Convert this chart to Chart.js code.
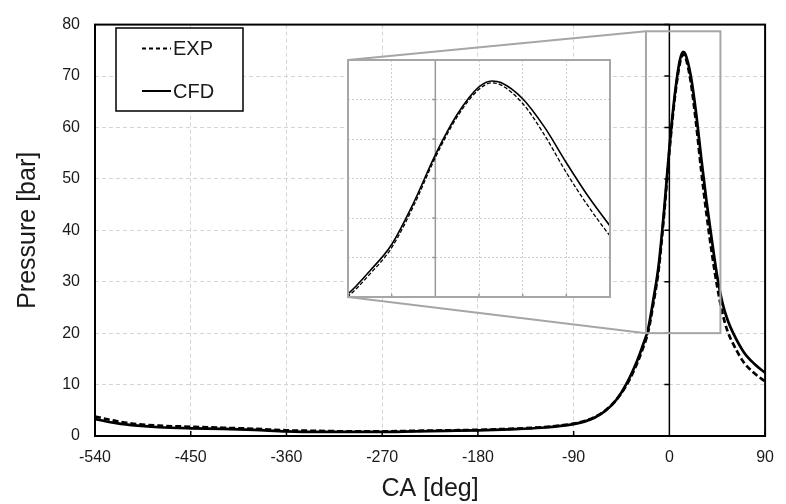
<!DOCTYPE html>
<html>
<head>
<meta charset="utf-8">
<script src="https://cdn.jsdelivr.net/npm/chart.js@4.4.1/dist/chart.umd.min.js"></script>
<style>
  html, body { margin: 0; padding: 0; background: #fff; }
  #wrap { position: relative; width: 786px; height: 504px; }
  #main { position: absolute; left: 0; top: 0; }
  #inset { position: absolute; }
</style>
</head>
<body>
<div id="wrap">
  <canvas id="main" width="786" height="504"></canvas>
  <canvas id="inset"></canvas>
</div>
<script>
// crank angle [deg]
const ca = [-540, -520, -500, -480, -450, -420, -390, -360, -330, -300, -270, -240, -210, -180,
  -150, -120, -100, -90, -80, -70, -60, -50, -40, -30, -25, -20, -15, -10, -5, 0, 5, 10, 13, 15,
  20, 25, 30, 35, 40, 45, 50, 55, 60, 70, 80, 90];

// pressure [bar]
const expP = [3.8, 2.9, 2.3, 2.0, 1.8, 1.6, 1.4, 1.1, 1.0, 0.9, 0.9, 1.0, 1.1, 1.2,
  1.4, 1.7, 2.1, 2.4, 2.9, 3.7, 5.0, 7.0, 10.0, 14.3, 17.0, 20.2, 25.8, 32.5, 43.0, 55.3, 65.6, 72.6, 74.2, 73.7,
  69.0, 61.0, 51.5, 43.0, 35.5, 29.0, 23.8, 20.2, 17.9, 14.3, 12.2, 10.6];
const cfdP = [3.3, 2.5, 2.0, 1.7, 1.5, 1.4, 1.2, 0.9, 0.8, 0.8, 0.8, 0.9, 1.0, 1.1,
  1.3, 1.6, 2.0, 2.3, 2.8, 3.6, 4.9, 7.0, 10.3, 14.8, 17.6, 20.8, 26.6, 33.3, 43.8, 56.0, 66.2, 73.2, 74.7, 74.3,
  70.2, 63.0, 54.0, 45.5, 38.0, 31.0, 25.8, 22.4, 20.0, 16.3, 14.0, 12.3];

const xTicks = [-540, -450, -360, -270, -180, -90, 0, 90];
const yTicks = [0, 10, 20, 30, 40, 50, 60, 70, 80];
const insetXTicks = [-20, -10, 0, 10, 20, 30, 40];
const insetYTicks = [20, 30, 40, 50, 60, 70, 80];

// zoomed window (data units) and where the inset sits on the page
const zoomBox = { x0: -22, x1: 48, y0: 20, y1: 78.7 };
const INSET = { left: 348, top: 60, width: 262, height: 237 };

const FONT = "'Liberation Sans', Arial, sans-serif";
Chart.defaults.font.family = FONT;
Chart.defaults.color = '#1a1a1a';

const pts = (ys) => ca.map((x, i) => ({ x: x, y: ys[i] }));

function datasets(wExp, wCfd, dash) {
  return [
    { label: 'EXP', data: pts(expP), borderColor: '#000', borderWidth: wExp, borderDash: dash,
      pointRadius: 0, cubicInterpolationMode: 'monotone', fill: false },
    { label: 'CFD', data: pts(cfdP), borderColor: '#000', borderWidth: wCfd,
      pointRadius: 0, cubicInterpolationMode: 'monotone', fill: false }
  ];
}

const setTicks = (vals) => (s) => { s.ticks = vals.map(v => ({ value: v })); };

// frame, zero line, inner ticks, zoom box, legend
const decor = {
  id: 'decor',
  beforeDatasetsDraw(chart) {
    const { ctx, chartArea: a, scales: { x, y } } = chart;
    const x0 = x.getPixelForValue(0);
    ctx.save();
    ctx.strokeStyle = '#000';
    ctx.lineWidth = 1.5;
    ctx.beginPath();
    ctx.moveTo(x0, a.top); ctx.lineTo(x0, a.bottom);
    yTicks.forEach(v => {
      const py = y.getPixelForValue(v);
      ctx.moveTo(x0 - 5, py); ctx.lineTo(x0, py);
    });
    xTicks.forEach(v => {
      const px = x.getPixelForValue(v);
      ctx.moveTo(px, a.bottom); ctx.lineTo(px, a.bottom - 5);
    });
    ctx.stroke();
    ctx.restore();
  },
  afterDatasetsDraw(chart) {
    const { ctx, chartArea: a, scales: { x, y } } = chart;
    ctx.save();
    // plot frame
    ctx.strokeStyle = '#000';
    ctx.lineWidth = 2;
    ctx.strokeRect(a.left, a.top, a.width, a.height);

    // zoom window + connectors
    const zl = x.getPixelForValue(zoomBox.x0), zr = x.getPixelForValue(zoomBox.x1);
    const zt = y.getPixelForValue(zoomBox.y1), zb = y.getPixelForValue(zoomBox.y0);
    ctx.strokeStyle = '#a6a6a6';
    ctx.lineWidth = 2;
    ctx.strokeRect(zl, zt, zr - zl, zb - zt);
    ctx.beginPath();
    ctx.moveTo(zl, zt); ctx.lineTo(INSET.left, INSET.top);
    ctx.moveTo(zl, zb); ctx.lineTo(INSET.left, INSET.top + INSET.height);
    ctx.stroke();

    // legend
    const box = { left: 116, top: 28, w: 127, h: 83 };
    ctx.fillStyle = '#fff';
    ctx.fillRect(box.left, box.top, box.w, box.h);
    ctx.strokeStyle = '#000';
    ctx.lineWidth = 1.5;
    ctx.strokeRect(box.left, box.top, box.w, box.h);
    const rows = [48.5, 91];
    chart.data.datasets.forEach((ds, i) => {
      const ly = rows[i];
      ctx.beginPath();
      ctx.setLineDash(ds.borderDash ? [4, 3] : []);
      ctx.lineWidth = 2;
      ctx.moveTo(142, ly); ctx.lineTo(171, ly);
      ctx.stroke();
      ctx.setLineDash([]);
      ctx.fillStyle = '#1a1a1a';
      ctx.font = '20px ' + FONT;
      ctx.textBaseline = 'middle';
      ctx.fillText(ds.label, 173, ly + 1);
    });
    ctx.restore();
  }
};

new Chart(document.getElementById('main'), {
  type: 'line',
  data: { datasets: datasets(2.7, 2.7, [6, 3]) },
  plugins: [decor],
  options: {
    responsive: false,
    animation: false,
    devicePixelRatio: 1,
    layout: { padding: { top: 20, right: 11, left: 0, bottom: 0 } },
    plugins: { legend: { display: false }, tooltip: { enabled: false } },
    scales: {
      x: {
        type: 'linear', min: -540, max: 90,
        afterBuildTicks: setTicks(xTicks),
        afterFit: (s) => { s.height = 68; },
        ticks: { font: { size: 16 }, padding: 12 },
        grid: { color: '#d4d4d4', lineWidth: 1, drawTicks: false },
        border: { display: false, dash: [4, 3] },
        title: { display: true, text: 'CA [deg]', font: { size: 25 }, color: '#1a1a1a',
          padding: { top: 0, bottom: 0 } }
      },
      y: {
        min: 0, max: 80,
        afterBuildTicks: setTicks(yTicks),
        afterFit: (s) => { s.width = 95; },
        ticks: { font: { size: 16 }, padding: 15 },
        grid: { color: '#d4d4d4', lineWidth: 1, drawTicks: false },
        border: { display: false, dash: [4, 3] },
        title: { display: true, text: 'Pressure [bar]', font: { size: 25 }, color: '#1a1a1a',
          padding: { top: 13, bottom: 0 } }
      }
    }
  }
});

// inset (zoomed view around the peak)
const insetCanvas = document.getElementById('inset');
insetCanvas.width = INSET.width + 4;
insetCanvas.height = INSET.height + 4;
insetCanvas.style.left = (INSET.left - 2) + 'px';
insetCanvas.style.top = (INSET.top - 2) + 'px';

const insetDecor = {
  id: 'insetDecor',
  beforeDraw(chart) {
    const { ctx, chartArea: a } = chart;
    ctx.save();
    ctx.fillStyle = '#fff';
    ctx.fillRect(a.left, a.top, a.width, a.height);
    ctx.restore();
  },
  beforeDatasetsDraw(chart) {
    const { ctx, chartArea: a, scales: { x, y } } = chart;
    const x0 = x.getPixelForValue(0);
    ctx.save();
    ctx.strokeStyle = '#999';
    ctx.lineWidth = 1.5;
    ctx.beginPath();
    ctx.moveTo(x0, a.top); ctx.lineTo(x0, a.bottom);
    insetYTicks.forEach(v => {
      const py = y.getPixelForValue(v);
      ctx.moveTo(x0 - 3, py); ctx.lineTo(x0, py);
    });
    insetXTicks.forEach(v => {
      const px = x.getPixelForValue(v);
      ctx.moveTo(px, a.bottom); ctx.lineTo(px, a.bottom - 3);
    });
    ctx.stroke();
    ctx.restore();
  },
  afterDraw(chart) {
    const { ctx, chartArea: a } = chart;
    ctx.save();
    ctx.strokeStyle = '#a6a6a6';
    ctx.lineWidth = 2;
    ctx.strokeRect(a.left, a.top, a.width, a.height);
    ctx.restore();
  }
};

new Chart(insetCanvas, {
  type: 'line',
  data: { datasets: datasets(1.3, 1.6, [4, 2]) },
  plugins: [insetDecor],
  options: {
    responsive: false,
    animation: false,
    devicePixelRatio: 1,
    layout: { padding: 2 },
    plugins: { legend: { display: false }, tooltip: { enabled: false } },
    scales: {
      x: {
        type: 'linear', min: -20, max: 40,
        afterBuildTicks: setTicks(insetXTicks),
        afterFit: (s) => { s.height = 0; },
        ticks: { display: false },
        grid: { color: '#cfcfcf', drawTicks: false },
        border: { display: false, dash: [2, 2] }
      },
      y: {
        min: 20, max: 80,
        afterBuildTicks: setTicks(insetYTicks),
        afterFit: (s) => { s.width = 0; },
        ticks: { display: false },
        grid: { color: '#cfcfcf', drawTicks: false },
        border: { display: false, dash: [2, 2] }
      }
    }
  }
});
</script>
</body>
</html>
